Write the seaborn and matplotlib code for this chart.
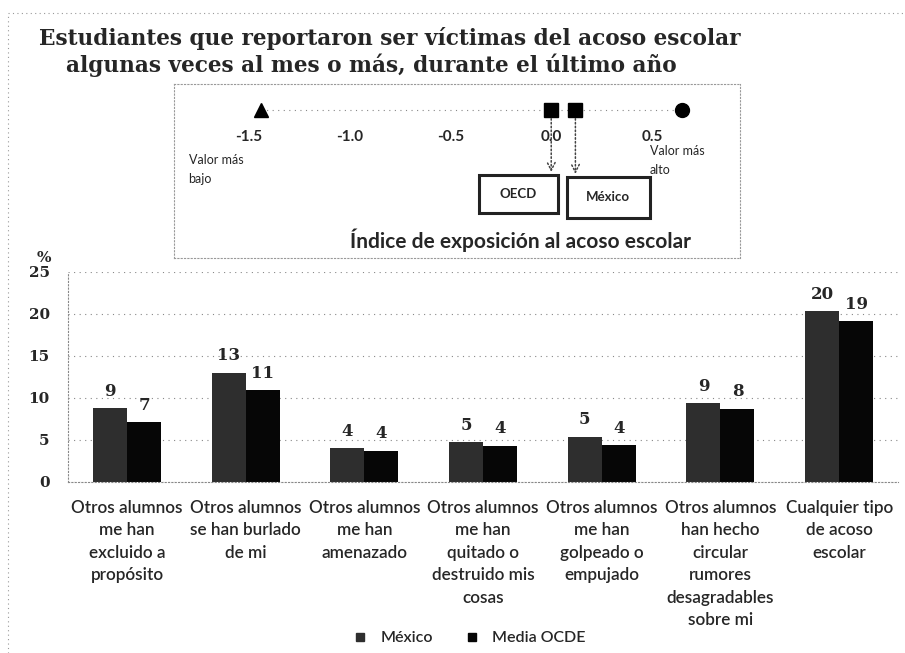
import matplotlib
matplotlib.use("Agg")
import pandas as pd
import matplotlib.pyplot as plt
import seaborn as sns
from matplotlib.patches import Rectangle
from matplotlib.lines import Line2D

# ===== Datos =====
categorias = [
    "Otros alumnos\nme han\nexcluido a\npropósito",
    "Otros alumnos\nse han burlado\nde mi",
    "Otros alumnos\nme han\namenazado",
    "Otros alumnos\nme han\nquitado o\ndestruido mis\ncosas",
    "Otros alumnos\nme han\ngolpeado o\nempujado",
    "Otros alumnos\nhan hecho\ncircular\nrumores\ndesagradables\nsobre mi",
    "Cualquier tipo\nde acoso\nescolar",
]
mexico = [8.8, 13.0, 4.0, 4.7, 5.4, 9.4, 20.3]
ocde = [7.1, 10.9, 3.7, 4.3, 4.4, 8.7, 19.1]
etiquetas_mexico = ["9", "13", "4", "5", "5", "9", "20"]
etiquetas_ocde = ["7", "11", "4", "4", "4", "8", "19"]
series = ["México", "Media OCDE"]
colores = {"México": "#2e2e2e", "Media OCDE": "#060606"}

# Índice de exposición al acoso escolar
indice_min = -1.44
indice_ocde = 0.0
indice_mexico = 0.12
indice_max = 0.65
ticks_indice = [-1.5, -1.0, -0.5, 0.0, 0.5]

df = pd.DataFrame({
    "categoria": categorias * 2,
    "pct": mexico + ocde,
    "serie": [series[0]] * len(categorias) + [series[1]] * len(categorias),
})

sns.set_style("white")
plt.rcParams["font.family"] = ["Lato", "DejaVu Sans"]

fig = plt.figure(figsize=(9.05, 6.53), dpi=100)

# ===== Gráfico de barras =====
ax = fig.add_axes([0.0748, 0.262, 0.918, 0.3216])
sns.barplot(data=df, x="categoria", y="pct", hue="serie", hue_order=series,
            palette=colores, width=0.573, gap=0, saturation=1, legend=False,
            edgecolor="none", ax=ax)

for cont, labs in zip(ax.containers, [etiquetas_mexico, etiquetas_ocde]):
    ax.bar_label(cont, labels=labs, padding=6, fontsize=12, fontweight="bold",
                 family="DejaVu Serif")

ax.set_ylim(0, 25)
ax.set_xlim(-0.5, len(categorias) - 0.5)
ax.set_yticks([0, 5, 10, 15, 20, 25])
ax.set_yticklabels(["0", "5", "10", "15", "20", "25"], fontsize=11,
                   fontweight="bold", family="DejaVu Serif")
ax.set_xlabel("")
ax.set_ylabel("")
ax.tick_params(axis="x", length=0, pad=13, labelsize=12.3)
ax.tick_params(axis="y", length=4, color="#999999", pad=9)
for t in ax.get_xticklabels():
    t.set_linespacing(1.5)
    t.set_fontweight("semibold")
ax.yaxis.grid(True, linestyle=(0, (1, 4)), color="#888888", lw=0.8)
ax.set_axisbelow(True)
for s in ["top", "right"]:
    ax.spines[s].set_visible(False)
for s in ["left", "bottom"]:
    ax.spines[s].set_linestyle((0, (1, 2)))
    ax.spines[s].set_color("#888888")
    ax.spines[s].set_linewidth(0.8)

fig.text(44 / 905, 1 - 258 / 653, "%", ha="center", va="center", fontsize=11,
         fontweight="bold", family="DejaVu Serif")

handles = [Line2D([], [], marker="s", ls="none", markersize=6,
                  color=colores[s]) for s in series]
leg = fig.legend(handles, series, loc="center",
                 bbox_to_anchor=(465 / 905, 1 - 638 / 653), ncol=2,
                 frameon=False, fontsize=11.5, handletextpad=0.3,
                 columnspacing=1.4)
for t in leg.get_texts():
    t.set_fontweight("semibold")

# ===== Título =====
fig.text(390 / 905, 1 - 38 / 653,
         "Estudiantes que reportaron ser víctimas del acoso escolar",
         ha="center", va="center", fontsize=15.6, fontweight="bold",
         family="DejaVu Serif")
fig.text(371 / 905, 1 - 65 / 653,
         "algunas veces al mes o más, durante el último año",
         ha="center", va="center", fontsize=15.6, fontweight="bold",
         family="DejaVu Serif")

# ===== Recuadro del índice =====
ax2 = fig.add_axes([0.1923, 0.6049, 0.6254, 0.2665])
ax2.set_xlim(-1.872, 0.937)
ax2.set_ylim(0, 1)
ax2.set_xticks([])
ax2.set_yticks([])
for s in ax2.spines.values():
    s.set_linestyle((0, (1, 2)))
    s.set_color("#999999")
    s.set_linewidth(0.8)
ax2.patch.set_alpha(0)

fila = 0.851
ax2.plot([indice_min, indice_max], [fila, fila], ls=(0, (1, 4)), color="#888888", lw=0.8)
ax2.plot([indice_min], [fila], marker="^", markersize=10, color="black", ls="none")
ax2.plot([indice_ocde, indice_mexico], [fila, fila], marker="s", markersize=10,
         color="black", ls="none")
ax2.plot([indice_max], [fila], marker="o", markersize=10, color="black", ls="none")

for v in ticks_indice:
    ax2.text(v, 0.695, f"{v:.1f}", ha="center", va="center", fontsize=11,
             fontweight="bold")

ax2.text(-1.80, 0.506, "Valor más\nbajo", ha="left", va="center", fontsize=9,
         linespacing=1.7)
ax2.text(0.49, 0.563, "Valor más\nalto", ha="left", va="center", fontsize=9,
         linespacing=1.7)

# Recuadros OECD / México con flechas
cajas = [(indice_ocde, "OECD", -0.359, 0.032, 0.259, 0.477, 0.494),
         (indice_mexico, "México", 0.077, 0.489, 0.230, 0.466, 0.483)]
for val, txt, x0, x1, y0, y1, ya in cajas:
    ax2.annotate("", xy=(val, ya), xytext=(val, fila - 0.05),
                 arrowprops=dict(arrowstyle="->", ls=(0, (1, 1.5)), lw=1.1,
                                 color="#444444", mutation_scale=14,
                                 shrinkA=0, shrinkB=0))
    ax2.add_patch(Rectangle((x0, y0), x1 - x0, y1 - y0, fill=False,
                            lw=2.2, edgecolor="#222222"))
    ax2.text((x0 + x1) / 2, (y0 + y1) / 2, txt, ha="center", va="center",
             fontsize=9.5, fontweight="bold")

ax2.text(-0.15, 0.103, "Índice de exposición al acoso escolar", ha="center",
         va="center", fontsize=15, fontweight="bold")

# Borde punteado de la página
fig.add_artist(Line2D([8 / 905, 1], [1 - 13 / 653] * 2, transform=fig.transFigure,
                      ls=(0, (1, 3)), color="#999999", lw=0.8))
fig.add_artist(Line2D([8 / 905] * 2, [0, 1 - 13 / 653], transform=fig.transFigure,
                      ls=(0, (1, 3)), color="#999999", lw=0.8))

fig.savefig("out.png", dpi=100)
